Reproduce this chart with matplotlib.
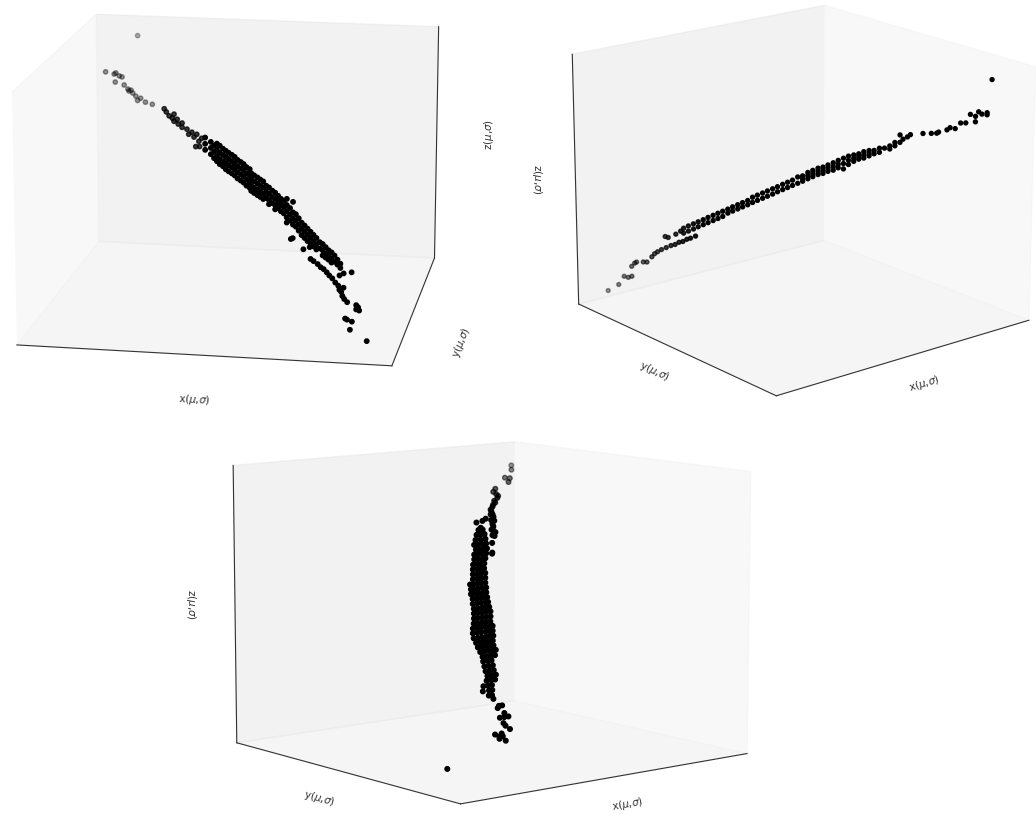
import matplotlib
matplotlib.use("Agg")
import matplotlib.pyplot as plt
import numpy as np

FIG_W, FIG_H = 1036, 814

# ---- panel 1 ----
x1 = [
    .06, .09, .10, .108, .088, .114, .125, .134, .139, .128, .148, .153, .162, .176, .196, .085,
    .14,
    .261, .267, .275, .284, .289, .298, .289, .301, .312, .312, .326, .331, .340, .346, .354, .360, .362, .368, .351,
    .406, .406, .406, .422, .422, .422, .431, .431, .431,
    .439, .439, .439, .439, .447, .447, .447, .447, .456, .456, .456, .456,
    .464, .464, .464, .464, .472, .472, .472, .472, .481, .481, .481, .481,
    .489, .489, .489, .489, .497, .497, .497, .497, .506, .506, .506, .506,
    .514, .514, .514, .514, .522, .522, .522, .522, .531, .531, .531, .531,
    .561, .561, .561, .561, .569, .569, .569, .569, .578, .578, .578, .578,
    .586, .586, .586, .586, .594, .594, .594, .594, .602, .602, .602,
    .610, .610, .610, .610, .619, .619, .619, .627, .627, .627, .627,
    .635, .635, .635, .643, .643, .643, .651, .651, .651,
    .659, .659, .659, .659, .668, .668, .668, .676, .676, .676, .676,
    .684, .684, .684, .692, .692, .692, .659,
    .723, .723, .723, .731, .731, .731, .739, .739, .739, .747, .747, .747,
    .755, .755, .755, .763, .763, .763, .772, .772, .780, .780, .780,
    .788, .788, .788, .796, .796, .796, .804, .804, .804, .812, .812,
    .820, .820, .828, .828, .699, .694, .728, .745,
    .767, .775, .786, .794, .802, .810, .817, .825, .833, .841, .844, .849, .852, .857, .865, .855,
    .894, .889, .897, .889, .860, .865, .878, .873, .918, .876, .855, .844,
]
y1 = [
    .85, .85, .85, .85, .85, .85, .85, .85, .85, .85, .85, .85, .85, .85, .85, .85,
    .92,
    .70, .70, .70, .70, .70, .70, .70, .70, .70, .70, .70, .70, .70, .70, .70, .70, .70, .70, .70,
    .55, .55, .55, .55, .55, .55, .55, .55, .55,
    .55, .55, .55, .55, .55, .55, .55, .55, .55, .55, .55, .55,
    .55, .55, .55, .55, .55, .55, .55, .55, .55, .55, .55, .55,
    .55, .55, .55, .55, .55, .55, .55, .55, .55, .55, .55, .55,
    .55, .55, .55, .55, .55, .55, .55, .55, .55, .55, .55, .55,
    .40, .40, .40, .40, .40, .40, .40, .40, .40, .40, .40, .40,
    .40, .40, .40, .40, .40, .40, .40, .40, .40, .40, .40,
    .40, .40, .40, .40, .40, .40, .40, .40, .40, .40, .40,
    .40, .40, .40, .40, .40, .40, .40, .40, .40,
    .40, .40, .40, .40, .40, .40, .40, .40, .40, .40, .40,
    .40, .40, .40, .40, .40, .40, .40,
    .25, .25, .25, .25, .25, .25, .25, .25, .25, .25, .25, .25,
    .25, .25, .25, .25, .25, .25, .25, .25, .25, .25, .25,
    .25, .25, .25, .25, .25, .25, .25, .25, .25, .25, .25,
    .25, .25, .25, .25, .25, .25, .25, .25,
    .12, .12, .12, .12, .12, .12, .12, .12, .12, .12, .12, .12, .12, .12, .12, .12,
    .12, .12, .12, .12, .12, .12, .12, .12, .12, .12, .12, .12,
]
z1 = [
    .803, .80, .788, .784, .761, .75, .733, .729, .717, .725, .704, .686, .696, .68, .672, .795,
    .94,
    .709, .696, .680, .671, .658, .667, .688, .647, .652, .634, .627, .606, .615, .595, .607, .578, .556, .591, .555,
    .651, .625, .600, .634, .609, .583, .619, .593, .567,
    .628, .602, .576, .555, .620, .590, .564, .543, .608, .582, .556, .535,
    .600, .574, .549, .523, .592, .566, .541, .515, .584, .558, .533, .507,
    .576, .550, .525, .499, .564, .538, .513, .487, .556, .530, .505, .479,
    .548, .523, .497, .471, .536, .510, .485, .459, .528, .503, .477, .451,
    .570, .545, .519, .498, .562, .537, .511, .490, .554, .529, .504, .482,
    .546, .521, .496, .475, .539, .514, .488, .467, .522, .497, .472,
    .515, .489, .464, .447, .503, .477, .452, .495, .470, .444, .427,
    .483, .457, .432, .471, .446, .420, .463, .438, .412,
    .472, .447, .422, .396, .435, .409, .384, .461, .418, .393, .368,
    .411, .385, .360, .395, .369, .344, .375,
    .440, .415, .390, .429, .404, .379, .417, .392, .367, .405, .380, .359,
    .393, .368, .347, .381, .356, .335, .365, .340, .358, .333, .312,
    .346, .321, .304, .334, .313, .296, .326, .301, .285, .314, .289,
    .298, .278, .282, .265, .376, .372, .333, .343,
    .352, .344, .333, .321, .314, .302, .290, .279, .263, .251, .235, .227, .211, .199, .187, .244,
    .169, .177, .156, .160, .121, .117, .110, .077, .035, .307, .301, .292,
]

# ---- panel 2 ----
x2 = [
    .886, .865, .854, .846, .839, .839, .833, .829, .816, .809, .799, .794, .788,
    .780, .771, .762, .754, .746, .739, .731, .724, .714, .773, .767, .752,
    .743, .737, .737, .728, .728, .718, .718, .709, .709, .699, .699, .690, .690,
    .680, .680, .671, .671, .662, .662, .652, .652, .643, .643, .633, .633,
    .624, .624, .614, .614, .605, .605, .596, .596, .586, .586, .577, .577,
    .567, .567, .558, .558, .548, .548, .539, .539, .530, .530, .520, .520,
    .511, .511, .501, .501, .492, .492, .482, .482, .473, .473, .464, .464,
    .454, .454, .445, .445, .435, .435, .435, .426, .426, .416, .416, .407, .407,
    .398, .398, .388, .388, .379, .379, .369, .369, .360, .350, .350, .341, .341,
    .332, .332, .326, .318, .313,
    .501, .482, .464, .445, .426, .407, .388, .511, .492, .473, .454, .416, .398,
    .290, .275, .265, .262, .247, .241, .232, .222, .213, .205, .196, .190, .196, .175, .175, .184,
    .14,
]
y2 = [
    .0, .029, .044, .055, .065, .065, .073, .078, .096, .106, .119, .127, .135,
    .145, .158, .171, .182, .192, .203, .213, .223, .236, .156, .164, .184,
    .197, .205, .205, .218, .218, .231, .231, .244, .244, .257, .257, .270, .270,
    .283, .283, .296, .296, .309, .309, .322, .322, .335, .335, .348, .348,
    .361, .361, .374, .374, .387, .387, .400, .400, .413, .413, .426, .426,
    .439, .439, .452, .452, .465, .465, .478, .478, .491, .491, .504, .504,
    .517, .517, .530, .530, .543, .543, .556, .556, .569, .569, .582, .582,
    .595, .595, .608, .608, .621, .621, .621, .634, .634, .647, .647, .660, .660,
    .673, .673, .686, .686, .699, .699, .712, .712, .725, .738, .738, .751, .751,
    .764, .764, .771, .782, .790,
    .530, .556, .582, .608, .634, .660, .686, .517, .543, .569, .595, .647, .673,
    .821, .842, .855, .860, .881, .888, .901, .914, .927, .938, .951, .958, .951, .979, .979, .966,
    .96,
]
z2 = [
    .024, .053, .089, .086, .092, .133, .147, .152, .155, .156, .179, .193, .202,
    .212, .222, .232, .238, .248, .253, .263, .269, .279, .267, .264, .280,
    .294, .307, .287, .318, .297, .328, .307, .338, .318, .348, .328, .359, .338,
    .369, .348, .379, .358, .389, .368, .399, .383, .410, .393, .420, .403,
    .430, .413, .440, .423, .455, .434, .465, .444, .475, .454, .485, .464,
    .495, .474, .505, .485, .516, .495, .526, .505, .536, .515, .550, .525,
    .556, .535, .571, .546, .581, .556, .591, .566, .597, .572, .607, .582,
    .617, .588, .628, .599, .638, .617, .596, .648, .615, .654, .629, .660, .639,
    .670, .645, .676, .655, .678, .665, .688, .672, .690, .700, .688, .715, .702,
    .746, .717, .730, .740, .750,
    .558, .578, .594, .613, .632, .650, .665, .545, .568, .584, .602, .641, .657,
    .758, .761, .763, .768, .779, .788, .786, .809, .811, .845, .839, .857, .818, .856, .848, .849,
    .97,
]

# ---- panel 3 ----
x3 = [
    .052, .064, .108, .092, .106,
    .170, .185, .181, .179, .187, .205, .206, .219, .226, .240, .242, .245, .252, .249,
    .264, .296, .280, .320, .255, .269, .273, .319, .287, .283, .280, .298, .293, .318, .341, .344,
    .332, .317,
    .351, .336, .322,
    .366, .348, .330,
    .383, .369, .354, .340,
    .388, .373, .359, .348,
    .406, .392, .377, .363,
    .418, .404, .389, .378,
    .434, .419, .405, .394,
    .446, .431, .417, .406,
    .458, .443, .429, .414,
    .470, .455, .441, .426,
    .492, .482, .467, .453, .438,
    .501, .490, .476, .461, .447,
    .512, .501, .487, .472, .458,
    .518, .503, .489, .474, .467,
    .529, .514, .500, .485, .475,
    .538, .524, .509, .495, .484,
    .549, .535, .520, .506, .491,
    .561, .547, .532, .518, .503,
    .573, .559, .544, .530, .515,
    .588, .573, .559, .544, .530, .519,
    .600, .585, .571, .556, .542, .531,
    .609, .595, .580, .566, .551, .541,
    .613, .598, .584, .570, .555,
    .618, .603, .589, .574, .564,
    .622, .608, .594, .579, .568,
    .626, .612, .597, .583,
    .636, .621, .607,
    .643, .629, .614,
    .651, .637, .623,
    .656, .642, .627,
    .671, .656, .642,
    .694, .679, .665,
    .708, .687, .676,
    .700, .689,
    .694, .694, .683, .698, .700, .715, .700, .686,
    .729, .722, .707, .781, .759, .766, .755, .766, .745,
    .83,
]
y3 = [
    .047, .062, .086, .089, .100,
    .118, .127, .136, .142, .148, .156, .162, .168, .174, .183, .189, .198, .198, .207,
    .215, .215, .210, .218, .218, .227, .236, .236, .245, .248, .254, .263, .266, .286, .315, .318,
    .242, .242,
    .257, .257, .257,
    .271, .271, .271,
    .286, .286, .286, .286,
    .300, .300, .300, .300,
    .315, .315, .315, .315,
    .330, .330, .330, .330,
    .345, .345, .345, .345,
    .359, .359, .359, .359,
    .374, .374, .374, .374,
    .389, .389, .389, .389,
    .404, .404, .404, .404, .404,
    .419, .419, .419, .419, .419,
    .433, .433, .433, .433, .433,
    .448, .448, .448, .448, .448,
    .462, .462, .462, .462, .462,
    .478, .478, .478, .478, .478,
    .492, .492, .492, .492, .492,
    .507, .507, .507, .507, .507,
    .521, .521, .521, .521, .521,
    .536, .536, .536, .536, .536, .536,
    .551, .551, .551, .551, .551, .551,
    .566, .566, .566, .566, .566, .566,
    .581, .581, .581, .581, .581,
    .595, .595, .595, .595, .595,
    .610, .610, .610, .610, .610,
    .625, .625, .625, .625,
    .640, .640, .640,
    .654, .654, .654,
    .669, .669, .669,
    .683, .683, .683,
    .698, .698, .698,
    .713, .713, .713,
    .728, .728, .728,
    .743, .743,
    .755, .778, .778, .778, .808, .808, .808, .808,
    .840, .840, .840, .869, .869, .869, .869, .869, .869,
    .73,
]
z3 = [
    .920, .906, .883, .880, .868,
    .851, .842, .834, .828, .822, .814, .808, .802, .796, .788, .782, .773, .773, .765,
    .756, .756, .762, .753, .753, .744, .736, .736, .727, .724, .718, .710, .707, .687, .658, .655,
    .730, .730,
    .716, .716, .716,
    .701, .701, .701,
    .687, .687, .687, .687,
    .672, .672, .672, .672,
    .658, .658, .658, .658,
    .644, .644, .644, .644,
    .629, .629, .629, .629,
    .615, .615, .615, .615,
    .601, .601, .601, .601,
    .587, .587, .587, .587,
    .573, .573, .573, .573, .573,
    .559, .559, .559, .559, .559,
    .545, .545, .545, .545, .545,
    .531, .531, .531, .531, .531,
    .517, .517, .517, .517, .517,
    .503, .503, .503, .503, .503,
    .490, .490, .490, .490, .490,
    .476, .476, .476, .476, .476,
    .462, .462, .462, .462, .462,
    .449, .449, .449, .449, .449, .449,
    .436, .436, .436, .436, .436, .436,
    .422, .422, .422, .422, .422, .422,
    .409, .409, .409, .409, .409,
    .396, .396, .396, .396, .396,
    .383, .383, .383, .383, .383,
    .369, .369, .369, .369,
    .357, .357, .357,
    .343, .343, .343,
    .330, .330, .330,
    .317, .317, .317,
    .305, .305, .305,
    .292, .292, .292,
    .279, .279, .279,
    .266, .266,
    .256, .236, .236, .229, .218, .204, .204, .204,
    .194, .184, .170, .169, .169, .159, .159, .152, .142,
    .03,
]


def black_with_alpha(alpha):
    # far points fade to grey, the reference's depth shading
    colors = np.zeros((len(alpha), 4))
    colors[:, 3] = np.clip(alpha, 0.3, 1)
    return colors


def add_panel(fig, left, top, size, elev, azim, aspect, x, y, z, alpha, marker_size, zrot, pads):
    rect = [left / FIG_W, 1 - (top + size) / FIG_H, size / FIG_W, size / FIG_H]
    ax = fig.add_axes(rect, projection="3d")
    ax.set_facecolor("none")
    ax.view_init(elev=elev, azim=azim)
    ax.set_box_aspect(aspect)
    ax.scatter(x, y, z, c=black_with_alpha(alpha), s=marker_size, depthshade=False)
    ax.set_xlim(0, 1)
    ax.set_ylim(0, 1)
    ax.set_zlim(0, 1)
    ax.set_xticks([])
    ax.set_yticks([])
    ax.set_zticks([])
    ax.grid(False)
    for axis in (ax.xaxis, ax.yaxis, ax.zaxis):
        axis.line.set_color("#333333")
    ax.set_xlabel(r"x($\mu$,$\sigma$)", fontsize=7.5, labelpad=pads[0], color="#333333")
    ax.set_ylabel(r"y($\mu$,$\sigma$)", fontsize=7.5, labelpad=pads[1], color="#333333")
    ax.zaxis.set_rotate_label(False)
    ax.set_zlabel(r"z($\mu$,$\sigma$)", fontsize=7.5, labelpad=pads[2], color="#333333", rotation=zrot)
    return ax


fig = plt.figure(figsize=(FIG_W / 100, FIG_H / 100), dpi=100)
add_panel(fig, -49.5, -90, 555, 15, -80, (4, 4, 2.75), x1, y1, z1,
          0.4 + (0.85 - np.array(y1)) * 2.4, 10, 90, (4, 6.5, 8))
add_panel(fig, 538, -62, 514, 17.5, 51, (4, 4, 3.25), x2, y2, z2,
          0.4 + np.array(y2) * 2.2, 8, -90, (-6, -7, -4.5))
add_panel(fig, 196, 331, 572, 9, 51, (4, 4, 3.1), x3, y3, z3,
          0.4 + (0.92 - np.array(z3)) * 3.5, 11, -90, (-5, -4, -2.2))
fig.savefig("out.png", dpi=100)
